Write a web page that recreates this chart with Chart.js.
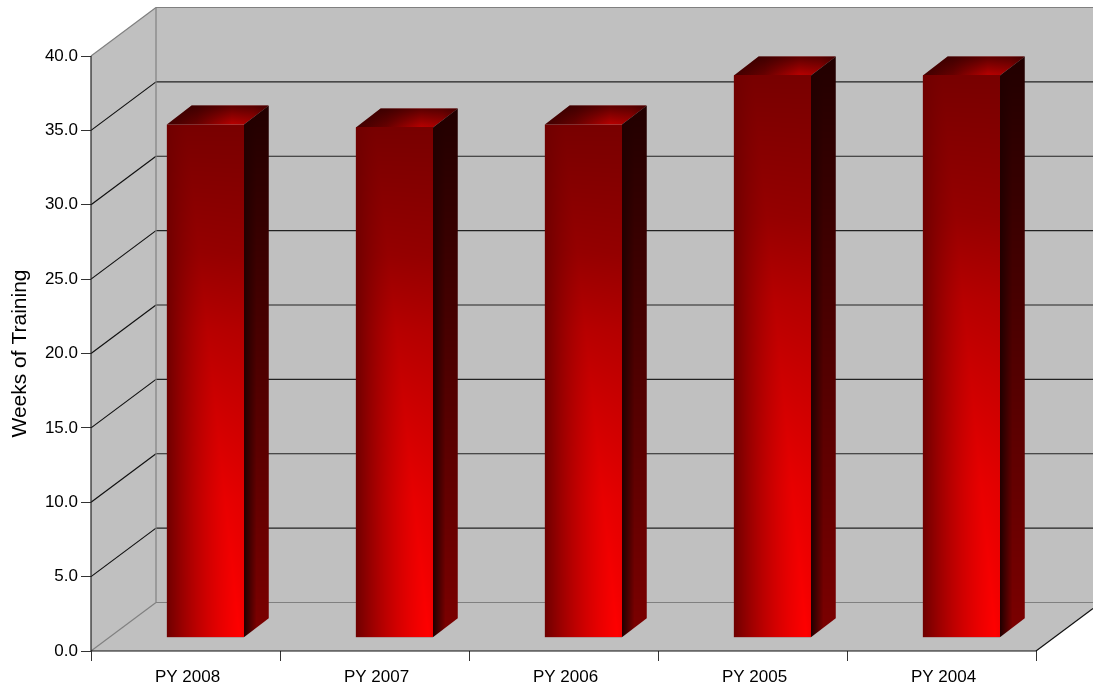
<!DOCTYPE html>
<html lang="en">
<head>
<meta charset="UTF-8">
<title>Weeks of Training</title>
<script src="https://cdn.jsdelivr.net/npm/chart.js"></script>
<style>
  body, html { margin: 0; padding: 0; background: #fff; }
  .chart-box { position: relative; width: 1093px; height: 688px; }
  canvas { display: block; }
</style>
</head>
<body>
<div class="chart-box"><canvas id="trainingChart" width="1093" height="688"></canvas></div>
<script>
  const categories = ['PY 2008', 'PY 2007', 'PY 2006', 'PY 2005', 'PY 2004'];
  const weeks = [34.5, 34.3, 34.5, 37.8, 37.8];
  const yTicks = [0, 5, 10, 15, 20, 25, 30, 35, 40];
  const axisTitle = 'Weeks of Training';

  // depth of the fake 3d box, and of the bars inside it
  const WALL_DX = 65, WALL_DY = -48.5;
  const BAR_DX = 19.9, BAR_DY = -13.3;
  const SIDE_DX = 24.8, SIDE_DY = -19;

  function line(ctx, x1, y1, x2, y2, color) {
    ctx.strokeStyle = color;
    ctx.lineWidth = 1.2;
    ctx.beginPath();
    ctx.moveTo(x1, y1);
    ctx.lineTo(x2, y2);
    ctx.stroke();
  }

  function poly(ctx, pts, fill) {
    ctx.fillStyle = fill;
    ctx.beginPath();
    pts.forEach((p, i) => i ? ctx.lineTo(p[0], p[1]) : ctx.moveTo(p[0], p[1]));
    ctx.closePath();
    ctx.fill();
  }

  // walls, floor and grid lines, all taken from the chart scales
  const boxPlugin = {
    id: 'box',
    beforeDatasetsDraw(chart) {
      const ctx = chart.ctx;
      const { left, right, top, bottom } = chart.chartArea;
      const y = chart.scales.y;
      const w = chart.width;
      const floorDx = w - right, floorDy = WALL_DY * floorDx / WALL_DX;
      ctx.save();
      poly(ctx, [[left, top], [left + WALL_DX, top + WALL_DY], [w, top + WALL_DY], [w, bottom + WALL_DY], [left + WALL_DX, bottom + WALL_DY], [left, bottom]], '#c0c0c0');
      poly(ctx, [[left, bottom], [left + WALL_DX, bottom + WALL_DY], [w, bottom + WALL_DY], [w, bottom + floorDy], [right, bottom]], '#c0c0c0');

      yTicks.forEach(v => {
        if (v === 0 || v === 40) return;
        const py = y.getPixelForValue(v);
        line(ctx, left, py, left + WALL_DX, py + WALL_DY, '#111');
        line(ctx, left + WALL_DX, py + WALL_DY, w, py + WALL_DY, '#222');
      });

      line(ctx, left, top, left + WALL_DX, top + WALL_DY, '#808080');
      line(ctx, left + WALL_DX, top + WALL_DY, w, top + WALL_DY, '#808080');
      line(ctx, left + WALL_DX, top + WALL_DY, left + WALL_DX, bottom + WALL_DY, '#808080');
      line(ctx, left, bottom, left + WALL_DX, bottom + WALL_DY, '#808080');
      line(ctx, left + WALL_DX, bottom + WALL_DY, w, bottom + WALL_DY, '#808080');
      line(ctx, right, bottom, w, bottom + floorDy, '#111');
      line(ctx, left, top, left, bottom, '#222');
      line(ctx, left, bottom, right, bottom, '#111');
      ctx.restore();
    },
    beforeDatasetDraw(chart) {
      chart.ctx.save();
      chart.ctx.translate(BAR_DX, BAR_DY);
    },
    afterDatasetDraw(chart, args) {
      const ctx = chart.ctx;
      args.meta.data.forEach(bar => {
        const x0 = bar.x - bar.width / 2, x1 = bar.x + bar.width / 2;
        const yT = bar.y, yB = bar.base;
        drawTop(ctx, x0, x1, yT);
        drawSide(ctx, x1, yT, yB);
        drawFront(ctx, x0, x1, yT, yB);
      });
      ctx.restore();
    }
  };

  // fills a small canvas pixel by pixel with a red level from shadeFn
  function shaded(w, h, shadeFn) {
    const c = document.createElement('canvas');
    c.width = w; c.height = h;
    const g = c.getContext('2d');
    const img = g.createImageData(w, h);
    for (let j = 0; j < h; j++) {
      for (let i = 0; i < w; i++) {
        const k = (j * w + i) * 4;
        img.data[k] = shadeFn(i / (w - 1), j / (h - 1));
        img.data[k + 3] = 255;
      }
    }
    g.putImageData(img, 0, 0);
    return c;
  }

  // how fast the bar lights up going down
  function lift(fy) {
    const stops = [[0, 0], [0.25, 0.22], [0.4, 0.47], [0.53, 0.62], [0.73, 0.83], [1, 1]];
    for (let i = 1; i < stops.length; i++) {
      if (fy <= stops[i][0]) {
        const a = stops[i - 1], b = stops[i];
        return a[1] + (b[1] - a[1]) * (fy - a[0]) / (b[0] - a[0]);
      }
    }
    return 1;
  }

  function frontShade(fx, fy) {
    const peak = 0x78 + 0x87 * lift(fy);
    const p = 0.25 + 0.7 * fy;
    if (fx < p) {
      const t = fx / p;
      return 0x70 + (peak - 0x70) * (t + 1 - (1 - t) * (1 - t)) / 2;
    }
    return peak - (peak - 0x78) * 0.06 * (fx - p) / (1 - p);
  }

  function sideShade(fx, fy) {
    const peak = 0x22 + (0x7c - 0x22) * fy;
    return 0x22 + (peak - 0x22) * Math.min(1, fx / 0.5);
  }

  function drawFront(ctx, x0, x1, yT, yB) {
    const c = shaded(Math.round(x1 - x0), Math.round(yB - yT), frontShade);
    ctx.drawImage(c, x0, yT, x1 - x0, yB - yT);
  }

  function drawSide(ctx, x1, yT, yB) {
    const pts = [[x1, yT], [x1 + SIDE_DX, yT + SIDE_DY], [x1 + SIDE_DX, yB + SIDE_DY], [x1, yB]];
    ctx.save();
    ctx.beginPath();
    pts.forEach((p, i) => i ? ctx.lineTo(p[0], p[1]) : ctx.moveTo(p[0], p[1]));
    ctx.closePath();
    ctx.clip();
    const c = shaded(Math.ceil(SIDE_DX), Math.round(yB - yT - SIDE_DY), sideShade);
    ctx.drawImage(c, x1, yT + SIDE_DY);
    ctx.restore();
  }

  function drawTop(ctx, x0, x1, yT) {
    const pts = [[x0, yT], [x1, yT], [x1 + SIDE_DX, yT + SIDE_DY], [x0 + SIDE_DX, yT + SIDE_DY]];
    const grad = ctx.createLinearGradient(x0, 0, x1 + SIDE_DX, 0);
    grad.addColorStop(0, '#400000');
    grad.addColorStop(0.3, '#680000');
    grad.addColorStop(0.64, '#b80000');
    grad.addColorStop(0.85, '#a80000');
    grad.addColorStop(1, '#780000');
    poly(ctx, pts, grad);
    const shadeGrad = ctx.createLinearGradient(0, yT, 0, yT + SIDE_DY);
    shadeGrad.addColorStop(0, 'rgba(40,0,0,0)');
    shadeGrad.addColorStop(1, 'rgba(40,0,0,0.65)');
    poly(ctx, pts, shadeGrad);
  }

  new Chart(document.getElementById('trainingChart'), {
    type: 'bar',
    plugins: [boxPlugin],
    data: {
      labels: categories,
      datasets: [{
        data: weeks,
        backgroundColor: '#780000',
        borderWidth: 0,
        barPercentage: 0.408,
        categoryPercentage: 1
      }]
    },
    options: {
      responsive: false,
      animation: false,
      layout: { padding: { top: 56, right: 57, bottom: 0, left: 0 } },
      plugins: { legend: { display: false }, tooltip: { enabled: false } },
      scales: {
        x: {
          afterFit(scale) { scale.height = 37; },
          grid: { display: true, drawOnChartArea: false, drawTicks: true, tickLength: 10, color: '#333', offset: true },
          border: { display: false },
          ticks: { color: '#000', font: { family: '"Liberation Sans"', size: 17 }, padding: 6, labelOffset: 2, maxRotation: 0, autoSkip: false }
        },
        y: {
          min: 0,
          max: 40,
          afterFit(scale) { scale.width = 91; },
          afterBuildTicks(scale) { scale.ticks = yTicks.map(v => ({ value: v })); },
          grid: { display: true, drawOnChartArea: false, drawTicks: true, tickLength: 10, color: '#333' },
          border: { display: false },
          title: { display: true, text: axisTitle, color: '#000', font: { family: '"Liberation Sans"', size: 21 }, padding: { top: 8, bottom: 0 } },
          ticks: { color: '#000', font: { family: '"Liberation Sans"', size: 17 }, padding: 3, autoSkip: false, callback: v => Number(v).toFixed(1) }
        }
      }
    }
  });
</script>
</body>
</html>
